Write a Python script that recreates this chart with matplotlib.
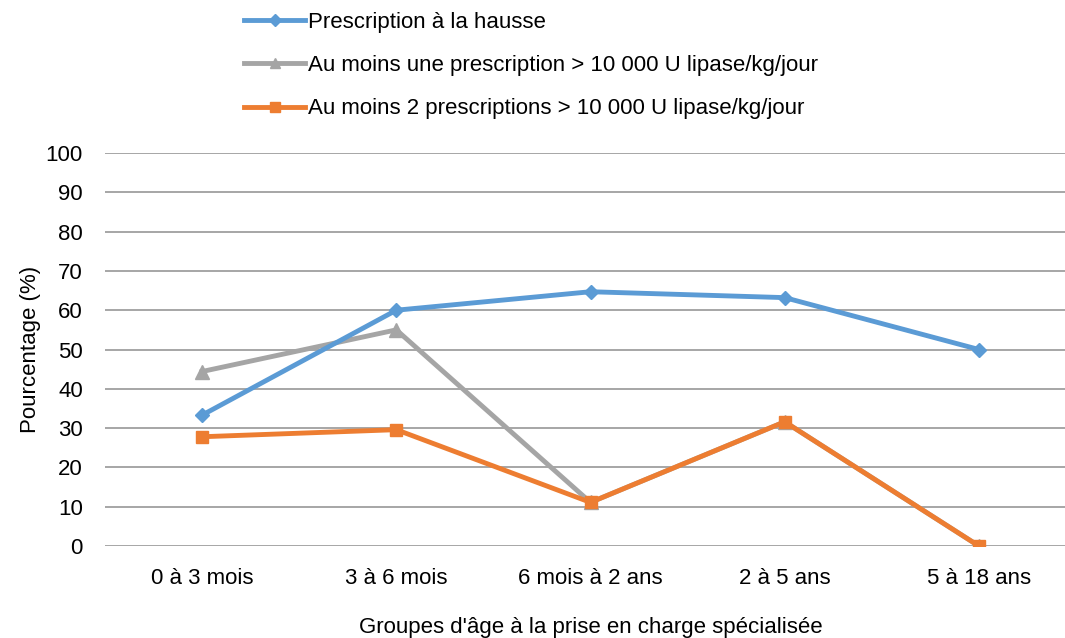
import matplotlib
matplotlib.use("Agg")
import matplotlib.pyplot as plt

plt.rcParams['font.family'] = ['Liberation Sans', 'DejaVu Sans']

categories = ["0 à 3 mois", "3 à 6 mois", "6 mois à 2 ans", "2 à 5 ans", "5 à 18 ans"]
hausse = [33.3, 60.0, 64.7, 63.2, 50.0]
au_moins_une = [44.4, 55.0, 11.1, 31.6, 0.0]
au_moins_deux = [27.8, 29.6, 11.1, 31.6, 0.0]
yticks = [0, 10, 20, 30, 40, 50, 60, 70, 80, 90, 100]

labels = ["Prescription à la hausse",
          "Au moins une prescription > 10 000 U lipase/kg/jour",
          "Au moins 2 prescriptions > 10 000 U lipase/kg/jour"]

FS = 16

fig = plt.figure(figsize=(10.65, 6.38), dpi=100)
ax = fig.add_axes([105/1065, 1-546/638, (1076-105)/1065, (546-153)/638])

x = list(range(len(categories)))
l1, = ax.plot(x, hausse, color='#5B9BD5', lw=3.5, marker='D', ms=7.5, zorder=3, label=labels[0])
l2, = ax.plot(x, au_moins_une, color='#A5A5A5', lw=3.5, marker='^', ms=9.5, zorder=2, label=labels[1])
l3, = ax.plot(x, au_moins_deux, color='#ED7D31', lw=3.5, marker='s', ms=9, zorder=4, label=labels[2])

ax.set_xlim(-0.5, len(categories) - 0.5)
ax.set_ylim(0, 100)
ax.set_yticks(yticks)
ax.set_xticks(x)
ax.set_xticklabels(categories)
ax.tick_params(axis='both', length=0, labelsize=FS)
ax.tick_params(axis='y', pad=16)
ax.tick_params(axis='x', pad=16)
ax.grid(axis='y', color='#A6A6A6', lw=1.4)
ax.set_axisbelow(True)
for s in ax.spines.values():
    s.set_visible(False)
ax.set_ylabel("Pourcentage (%)", fontsize=FS, labelpad=3)
ax.set_xlabel("Groupes d'âge à la prise en charge spécialisée", fontsize=FS, labelpad=20)

fig.legend(handles=[l1, l2, l3], loc='upper left', bbox_to_anchor=(224/1065, 1 + 8/638),
           frameon=False, fontsize=FS, handlelength=2.75, handletextpad=0.12,
           labelspacing=1.0, markerscale=0.8)

fig.savefig("out.png", dpi=100)
